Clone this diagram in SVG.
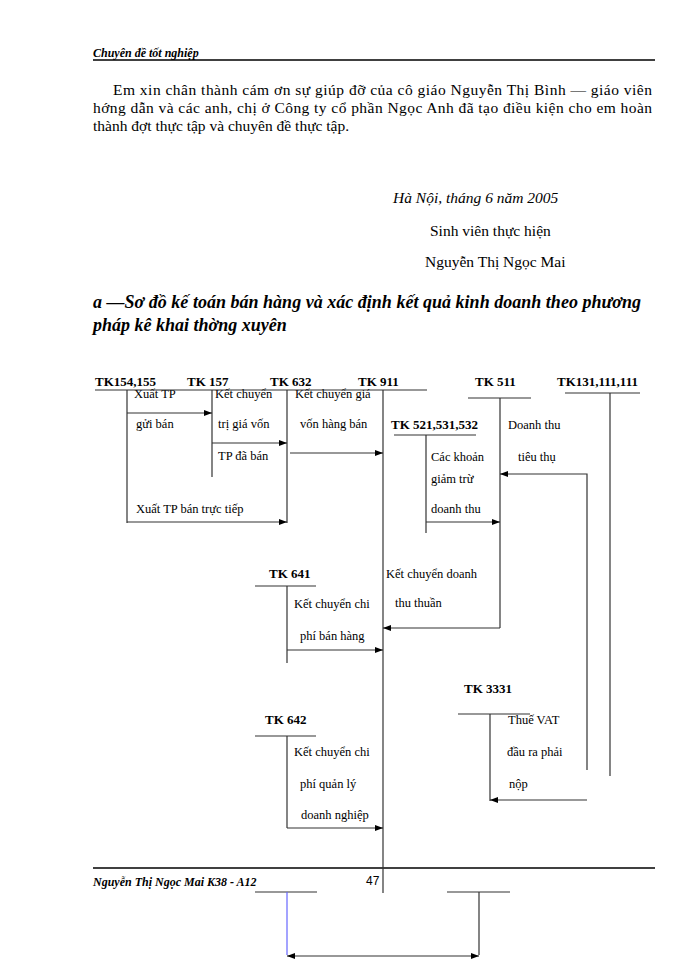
<svg xmlns="http://www.w3.org/2000/svg" width="700" height="960" viewBox="0 0 700 960">
<style>
text{font-family:"Liberation Serif",serif;fill:#000}
.b{font-weight:bold;font-size:13px}
.s{font-size:12.5px}
.p{font-size:15.5px}
.l{stroke:#333;stroke-width:1.2;fill:none}
.a{stroke:#333;stroke-width:1.2;fill:none;marker-end:url(#ar)}
</style>
<defs>
<marker id="ar" markerWidth="8" markerHeight="6" refX="8" refY="3" orient="auto" markerUnits="userSpaceOnUse"><path d="M0,0L8,3L0,6z" fill="#000"/></marker>
<marker id="as" markerWidth="8" markerHeight="6" refX="0" refY="3" orient="auto" markerUnits="userSpaceOnUse"><path d="M8,0L0,3L8,6z" fill="#000"/></marker>
</defs>
<g id="page">
<text x="93" y="57" style="font-style:italic;font-weight:bold;font-size:12px">Chuyên đề tốt nghiệp</text>
<line x1="93" y1="60" x2="655" y2="60" stroke="#000" stroke-width="1.5"/>
<text class="p" x="113" y="95" textLength="539" lengthAdjust="spacing">Em xin chân thành cám ơn sự giúp đỡ của cô giáo Nguyễn Thị Bình — giáo viên</text>
<text class="p" x="93" y="113" textLength="559" lengthAdjust="spacing">hớng   dẫn và các anh, chị ở  Công ty cổ phần Ngọc Anh đã tạo điều kiện cho em hoàn</text>
<text class="p" x="93" y="131">thành đợt thực tập và chuyên đề thực tập.</text>
<text class="p" x="393" y="203" font-style="italic">Hà Nội, tháng  6 năm 2005</text>
<text class="p" x="430" y="236">Sinh viên thực hiện</text>
<text class="p" x="425" y="267">Nguyễn Thị Ngọc Mai</text>
<text x="93" y="308" textLength="548" lengthAdjust="spacing" style="font-style:italic;font-weight:bold;font-size:18px">a —Sơ đồ kế toán bán hàng và xác định kết quả kinh doanh theo phương</text>
<text x="93" y="331" style="font-style:italic;font-weight:bold;font-size:18px">pháp kê khai thờng    xuyên</text>
<line x1="93" y1="868" x2="655" y2="868" stroke="#000" stroke-width="1.5"/>
<text x="93" y="886" style="font-style:italic;font-weight:bold;font-size:12px">Nguyễn Thị Ngọc Mai K38 - A12</text>
<text x="366" y="885" style="font-family:'Liberation Sans',sans-serif;font-size:12px">47</text>
</g>
<g id="tk154"><text class="b" x="95" y="386">TK154,155</text><line class="l" x1="127" y1="390" x2="127" y2="523"/>
<text class="s" x="134" y="398">Xuất TP</text><text class="s" x="136" y="428">gửi bán</text><text class="s" x="136" y="513">Xuất TP bán trực tiếp</text></g>
<g id="tk157"><text class="b" x="187" y="386">TK 157</text><line class="l" x1="212" y1="390" x2="212" y2="477"/>
<text class="s" x="215" y="398">Kết chuyển</text><text class="s" x="218" y="428">trị giá vốn</text><text class="s" x="218" y="460">TP đã bán</text></g>
<g id="tk632"><text class="b" x="270" y="386">TK  632</text><line class="l" x1="287" y1="390" x2="287" y2="523"/>
<text class="s" x="295" y="398">Kết chuyển giá</text><text class="s" x="300" y="428">vốn hàng bán</text></g>
<g id="tk911"><text class="b" x="358" y="386">TK 911</text><line class="l" x1="95" y1="390" x2="427" y2="390"/><line class="l" x1="383" y1="390" x2="383" y2="893"/>
<text class="s" x="386" y="578">Kết chuyển doanh</text><text class="s" x="395" y="607">thu thuần</text></g>
<g id="tk521"><text class="b" x="391" y="429">TK 521,531,532</text><line class="l" x1="394" y1="435" x2="476" y2="435"/><line class="l" x1="426" y1="435" x2="426" y2="533"/>
<text class="s" x="431" y="461">Các khoản</text><text class="s" x="431" y="483">giảm trừ</text><text class="s" x="431" y="513">doanh thu</text></g>
<g id="tk511"><text class="b" x="475" y="386">TK 511</text><line class="l" x1="468" y1="398" x2="531" y2="398"/><line class="l" x1="500" y1="398" x2="500" y2="628"/>
<text class="s" x="508" y="429">Doanh thu</text><text class="s" x="518" y="461">tiêu thụ</text></g>
<g id="tk131"><text class="b" x="557" y="386">TK131,111,111</text><line class="l" x1="565" y1="393" x2="640" y2="393"/><line class="l" x1="610" y1="393" x2="610" y2="776"/></g>
<g id="tk641"><text class="b" x="269" y="578">TK 641</text><line class="l" x1="255" y1="586" x2="316" y2="586"/><line class="l" x1="287" y1="586" x2="287" y2="663"/>
<text class="s" x="294" y="608">Kết chuyển chi</text><text class="s" x="300" y="640">phí bán hàng</text></g>
<g id="tk642"><text class="b" x="265" y="724">TK 642</text><line class="l" x1="255" y1="736" x2="316" y2="736"/><line class="l" x1="287" y1="736" x2="287" y2="828"/>
<text class="s" x="294" y="756">Kết chuyển chi</text><text class="s" x="300" y="788">phí quản lý</text><text class="s" x="301" y="819">doanh nghiệp</text></g>
<g id="tk3331"><text class="b" x="464" y="693">TK 3331</text><line class="l" x1="458" y1="714" x2="530" y2="714"/><line class="l" x1="490" y1="714" x2="490" y2="801"/>
<text class="s" x="508" y="724">Thuế VAT</text><text class="s" x="507" y="756">đầu ra phải</text><text class="s" x="509" y="788">nộp</text></g>
<g id="bottom"><line class="l" x1="255" y1="892" x2="317" y2="892"/><line x1="287" y1="892" x2="287" y2="955" stroke="#66f" stroke-width="1.2"/>
<line class="l" x1="447" y1="892" x2="510" y2="892"/><line class="l" x1="479" y1="892" x2="479" y2="955"/></g>
<g id="connectors">
<line class="a" x1="127" y1="413" x2="212" y2="413"/>
<line class="a" x1="212" y1="443" x2="287" y2="443"/>
<line class="a" x1="290" y1="453" x2="383" y2="453"/>
<line class="a" x1="127" y1="522" x2="287" y2="522"/>
<line class="a" x1="426" y1="522" x2="500" y2="522"/>
<polyline class="a" points="587,770 587,474 500,474"/>
<line class="a" x1="500" y1="628" x2="383" y2="628"/>
<line class="a" x1="287" y1="650" x2="383" y2="650"/>
<line class="a" x1="287" y1="828" x2="383" y2="828"/>
<line class="a" x1="587" y1="800" x2="490" y2="800"/>
<line class="a" x1="287" y1="956" x2="479" y2="956" marker-start="url(#as)"/>
</g>
</svg>
